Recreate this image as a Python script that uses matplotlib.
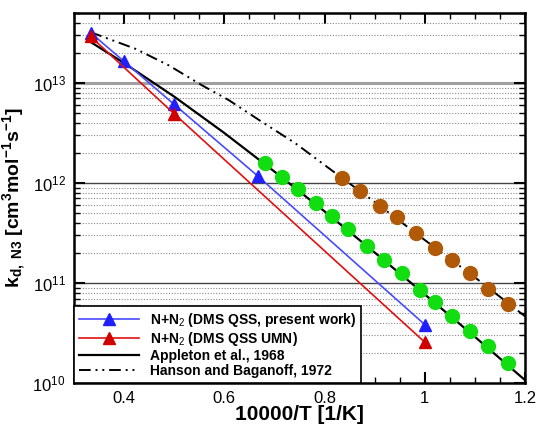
import matplotlib
matplotlib.use("Agg")
import matplotlib.pyplot as plt
from matplotlib.ticker import LogLocator, MultipleLocator, FixedLocator, NullFormatter, LogFormatterSciNotation

plt.rcParams['font.family'] = ['Liberation Sans', 'DejaVu Sans']
plt.rcParams['mathtext.fontset'] = 'custom'
plt.rcParams['mathtext.rm'] = 'Liberation Sans'
plt.rcParams['mathtext.it'] = 'Liberation Sans'
plt.rcParams['mathtext.bf'] = 'Liberation Sans:bold'

# ---- data ----
blue_x = [0.333, 0.4, 0.5, 0.667, 1.0]
blue_y = [3.18e13, 1.64e13, 6.1e12, 1.17e12, 3.84e10]

red_x = [0.333, 0.5, 1.0]
red_y = [2.92e13, 4.91e12, 2.56e10]

appleton_x = [0.333, 0.4, 0.5, 0.6, 0.7, 0.8, 0.9, 1.0, 1.1, 1.2]
appleton_y = [2.57e13, 1.58e13, 7.3e12, 3.16e12, 1.30e12, 5.2e11, 2.02e11, 7.7e10, 2.9e10, 1.07e10]

hanson_x = [0.333, 0.422, 0.489, 0.555, 0.609, 0.675, 0.742, 0.809, 0.9, 1.0, 1.1, 1.2]
hanson_y = [3.22e13, 2.20e13, 1.50e13, 9.5e12, 6.73e12, 4.08e12, 2.49e12, 1.40e12,
            6.46e11, 2.69e11, 1.14e11, 4.65e10]

green_x = [0.681, 0.715, 0.747, 0.783, 0.814, 0.847, 0.885, 0.919, 0.954, 0.991,
           1.021, 1.054, 1.090, 1.127, 1.167]
green_y = [1.59e12, 1.16e12, 8.7e11, 6.37e11, 4.71e11, 3.45e11, 2.36e11, 1.71e11,
           1.26e11, 8.57e10, 6.41e10, 4.65e10, 3.34e10, 2.33e10, 1.57e10]

brown_x = [0.834, 0.871, 0.911, 0.945, 0.982, 1.020, 1.054, 1.090, 1.127, 1.167]
brown_y = [1.13e12, 8.32e11, 5.94e11, 4.53e11, 3.19e11, 2.23e11, 1.68e11, 1.26e11,
           8.71e10, 6.22e10]

labels = ['N+N$_2$ (DMS QSS, present work)', 'N+N$_2$ (DMS QSS UMN)',
          'Appleton et al., 1968', 'Hanson and Baganoff, 1972']
xticks = [0.4, 0.6, 0.8, 1.0, 1.2]
xticklabels = ['0.4', '0.6', '0.8', '1', '1.2']

# ---- figure ----
fig = plt.figure(figsize=(5.36, 4.28), dpi=100)
ax = fig.add_axes([0.138, 0.105, 0.8415, 0.8646])
ax.set_yscale('log')
ax.set_xlim(0.3, 1.2)
ax.set_ylim(1e10, 5e13)

# grid
ax.yaxis.set_minor_locator(LogLocator(base=10, subs=range(2, 10)))
ax.yaxis.set_minor_formatter(NullFormatter())
ax.grid(which='minor', axis='y', linestyle=(0, (1, 1.5)), color='#888888', linewidth=0.8, zorder=0)
ax.axhline(1e13, color='#a0a0a0', linewidth=2.2, zorder=0.5)
ax.axhline(1e12, color='#444444', linewidth=1.0, zorder=0.5)
ax.axhline(1e11, color='#444444', linewidth=1.0, zorder=0.5)

l_blue, = ax.plot(blue_x, blue_y, color='#4a4aff', linewidth=1.2, marker='^',
                  markersize=9, markerfacecolor='#2020ff', markeredgecolor='#2020ff', zorder=3)
l_red, = ax.plot(red_x, red_y, color='#e01010', linewidth=1.2, marker='^',
                 markersize=9, markerfacecolor='#d00000', markeredgecolor='#d00000', zorder=3)
l_app, = ax.plot(appleton_x, appleton_y, color='black', linewidth=1.6, zorder=2)
l_han, = ax.plot(hanson_x, hanson_y, color='black', linewidth=1.4,
                 dashes=(6, 2.5, 1, 2.5, 1, 2.5), zorder=2)
ax.plot(green_x, green_y, linestyle='none', marker='o', markersize=10,
        markerfacecolor='#11dd11', markeredgecolor='#11dd11', zorder=4)
ax.plot(brown_x, brown_y, linestyle='none', marker='o', markersize=10,
        markerfacecolor='#b05a08', markeredgecolor='#b05a08', zorder=4)

# ticks
ax.xaxis.set_major_locator(FixedLocator(xticks))
ax.set_xticklabels(xticklabels)
ax.xaxis.set_minor_locator(MultipleLocator(0.05))
ax.yaxis.set_major_locator(LogLocator(base=10, numticks=10))
ax.yaxis.set_major_formatter(LogFormatterSciNotation())
ax.tick_params(which='both', direction='in', top=True, right=True)
ax.tick_params(which='major', length=8, width=1.5, labelsize=12, pad=6)
ax.tick_params(which='minor', length=4.5, width=1.0)
for s in ax.spines.values():
    s.set_linewidth(1.8)

ax.set_xlabel('10000/T [1/K]', fontsize=15, fontweight='bold', labelpad=-1)
ax.set_ylabel(r'$\mathbf{k_{d,\ N3}\ [cm^3mol^{-1}s^{-1}]}$', fontsize=14, labelpad=3)

leg = ax.legend([l_blue, l_red, l_app, l_han], labels, loc='lower left',
                bbox_to_anchor=(0, 0), borderaxespad=0, numpoints=1,
                prop={'weight': 'bold', 'size': 10}, handlelength=4.3,
                labelspacing=0.08, fancybox=False, framealpha=1, edgecolor='black',
                borderpad=0.35, handletextpad=0.8)
leg.get_frame().set_linewidth(1.2)
leg.set_zorder(10)

fig.savefig('out.png', dpi=100)
